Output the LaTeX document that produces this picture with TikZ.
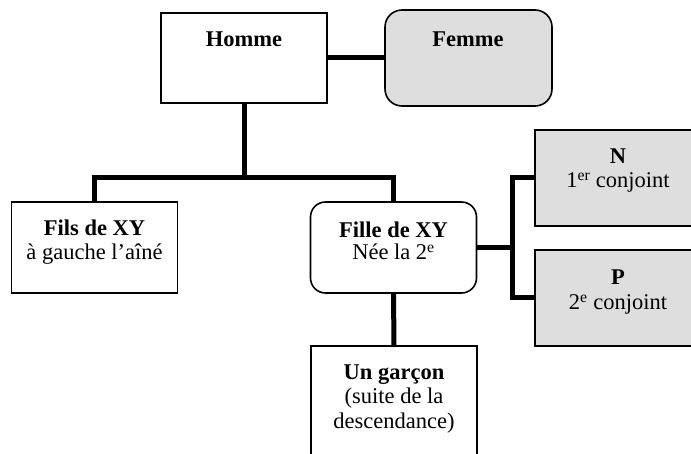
\documentclass[tikz,border=0pt]{standalone}
\usepackage{fontspec}
\setmainfont{Liberation Serif}
\definecolor{boxgray}{HTML}{DEDEDE}
\begin{document}
\begin{tikzpicture}[x=1pt,y=-1pt,
  box/.style={draw=black, line width=1.6pt, minimum width=166pt, minimum height=91pt, inner sep=0pt, outer sep=0pt},
  graybox/.style={box, fill=boxgray},
  roundbox/.style={box, rounded corners=15pt},
  link/.style={line width=5pt, line join=miter},
  txt/.style={anchor=base, inner sep=0pt, font=\fontsize{22.5}{26}\selectfont},
  btxt/.style={txt, font=\fontsize{22.5}{26}\selectfont\bfseries}]
\useasboundingbox (0,0) rectangle (691,454);
\clip (0,0) rectangle (691,454);
% boxes
\node[box, minimum height=90pt] (homme) at (244,58) {};
\node[graybox, rounded corners=17pt, minimum height=96pt, minimum width=167pt] (femme) at (468.5,58) {};
\node[box] (fils) at (94.5,247.5) {};
\node[roundbox] (fille) at (393.5,247.5) {};
\node[graybox, minimum height=96pt] (n) at (618,178) {};
\node[graybox, minimum height=96pt] (p) at (618,298) {};
\node[box, minimum height=114pt] (garcon) at (394,403) {};
% junctions
\coordinate (jc) at (244,178);
\coordinate (jr) at (512,247.5);
% connectors
\draw[link] (homme.east) -- (femme.west);
\draw[link] (homme.south) -- (jc);
\draw[link] (fils.north) |- (jc) -| (fille.north);
\draw[link] (fille.east) -- (jr);
\draw[link] (n.west) -| (jr) |- (p.west);
\draw[link] (fille.south) -- (garcon.north);
% texts
\node[btxt] (thomme) at (244,47) {Homme};
\node[btxt] (tfemme) at (468,47) {Femme};
\node[btxt] (tfils) at (94.5,236) {Fils de XY};
\node[txt] (tfils2) at (94.5,260) {à gauche l’aîné};
\node[btxt] (tfille) at (393.5,238) {Fille de XY};
\node[txt] (tfille2) at (393.5,260) {Née la 2\textsuperscript{e}};
\node[btxt] (tn) at (618,164) {N};
\node[txt] (tn2) at (618,188) {1\textsuperscript{er} conjoint};
\node[btxt] (tp) at (618,285) {P};
\node[txt] (tp2) at (618,310) {2\textsuperscript{e} conjoint};
\node[btxt] (tg) at (394,380) {Un garçon};
\node[txt] (tg2) at (394,403) {(suite de la};
\node[txt] (tg3) at (394,428) {descendance)};
\end{tikzpicture}
\end{document}
